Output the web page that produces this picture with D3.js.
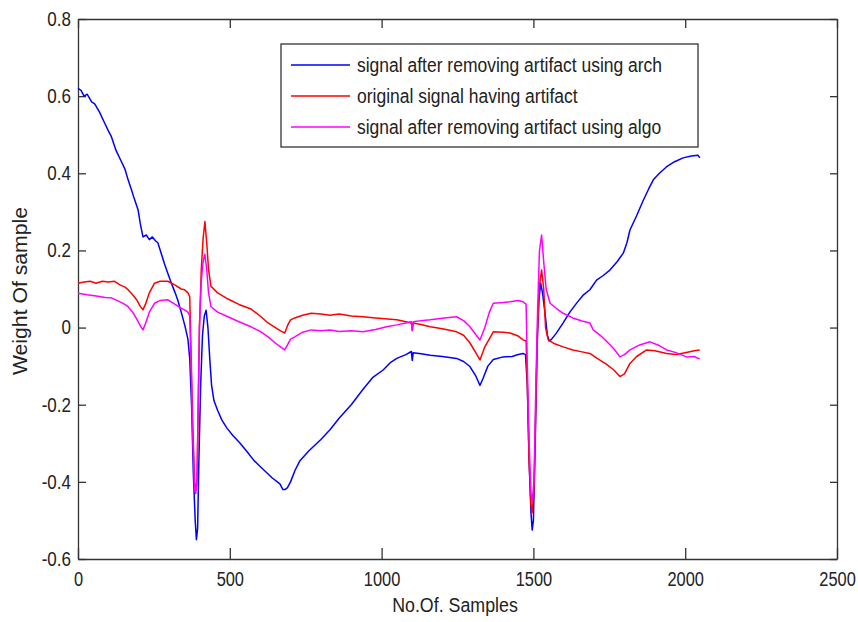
<!DOCTYPE html>
<html>
<head>
<meta charset="utf-8">
<script src="https://cdn.jsdelivr.net/npm/d3@7/dist/d3.min.js"></script>
<style>
  body { margin: 0; background: #fff; }
  svg text { font-family: "Liberation Sans Narrow", "Arial Narrow", "Liberation Sans", sans-serif; fill: #222; }
</style>
</head>
<body>
<div id="chart"></div>
<script>
// tick labels
const xTicks = [0, 500, 1000, 1500, 2000, 2500];
const yTicks = [-0.6, -0.4, -0.2, 0, 0.2, 0.4, 0.6, 0.8];

const seriesNames = [
  "signal after removing artifact using arch",
  "original signal having artifact",
  "signal after removing artifact using algo"
];
const seriesColors = ["#0000ff", "#ff0000", "#ff00ff"];

// [sample, value]
const archSignal = [
  [0,0.62],[10,0.615],[20,0.6],[30,0.605],[45,0.585],[55,0.58],[70,0.56],[85,0.535],[100,0.51],[110,0.495],
  [125,0.46],[140,0.435],[155,0.41],[165,0.383],[175,0.36],[185,0.335],[198,0.305],[205,0.27],[214,0.235],
  [225,0.24],[235,0.228],[245,0.235],[255,0.225],[263,0.22],[275,0.19],[285,0.165],[296,0.14],[310,0.11],
  [320,0.09],[329,0.07],[340,0.04],[352,0.005],[362,-0.03],[368,-0.08],[374,-0.2],[380,-0.38],[386,-0.5],
  [390,-0.55],[394,-0.52],[398,-0.35],[404,-0.15],[410,-0.02],[416,0.03],[422,0.045],[428,0.0],[434,-0.08],
  [440,-0.15],[448,-0.19],[460,-0.215],[474,-0.24],[490,-0.26],[510,-0.28],[534,-0.3],[555,-0.32],[580,-0.345],
  [600,-0.36],[620,-0.375],[640,-0.39],[665,-0.405],[675,-0.42],[682,-0.42],[690,-0.415],[700,-0.4],[715,-0.37],
  [731,-0.345],[760,-0.32],[800,-0.29],[830,-0.265],[860,-0.235],[900,-0.2],[939,-0.16],[970,-0.13],[1005,-0.11],
  [1030,-0.09],[1050,-0.08],[1080,-0.07],[1098,-0.062],[1101,-0.085],[1104,-0.065],[1130,-0.068],[1160,-0.072],
  [1200,-0.075],[1247,-0.08],[1270,-0.088],[1291,-0.101],[1310,-0.125],[1324,-0.15],[1335,-0.13],[1350,-0.1],
  [1368,-0.083],[1400,-0.076],[1430,-0.075],[1450,-0.07],[1466,-0.067],[1474,-0.07],[1480,-0.15],[1486,-0.35],
  [1492,-0.48],[1496,-0.525],[1500,-0.5],[1506,-0.3],[1512,-0.05],[1518,0.07],[1524,0.115],[1530,0.09],
  [1538,0.04],[1546,-0.02],[1552,-0.035],[1560,-0.03],[1575,-0.015],[1598,0.012],[1620,0.04],[1643,0.064],
  [1665,0.085],[1686,0.098],[1708,0.123],[1730,0.135],[1752,0.149],[1775,0.17],[1796,0.193],[1808,0.22],
  [1818,0.253],[1840,0.29],[1862,0.33],[1880,0.36],[1895,0.383],[1915,0.4],[1939,0.417],[1965,0.43],
  [1993,0.44],[2020,0.445],[2042,0.447],[2048,0.44]
];

const originalSignal = [
  [0,0.115],[20,0.118],[40,0.12],[60,0.115],[80,0.12],[100,0.118],[120,0.12],[140,0.11],[155,0.105],[165,0.098],
  [180,0.085],[195,0.07],[205,0.055],[214,0.046],[222,0.06],[235,0.09],[252,0.115],[270,0.12],[296,0.12],
  [320,0.11],[340,0.1],[351,0.098],[362,0.09],[368,0.08],[372,-0.05],[378,-0.25],[384,-0.4],[388,-0.42],
  [392,-0.4],[396,-0.2],[400,0.0],[406,0.15],[412,0.23],[418,0.275],[424,0.22],[430,0.15],[438,0.107],
  [460,0.09],[494,0.074],[530,0.06],[570,0.048],[600,0.03],[626,0.012],[650,0.0],[670,-0.01],[681,-0.014],
  [690,0.005],[700,0.02],[714,0.025],[740,0.032],[768,0.037],[800,0.035],[830,0.032],[860,0.035],[900,0.03],
  [939,0.028],[980,0.025],[1020,0.022],[1050,0.02],[1080,0.015],[1098,0.012],[1101,-0.008],[1104,0.012],
  [1130,0.008],[1160,0.002],[1200,-0.003],[1247,-0.011],[1270,-0.02],[1291,-0.04],[1310,-0.065],[1324,-0.084],
  [1340,-0.05],[1368,-0.011],[1400,-0.012],[1423,-0.014],[1450,-0.022],[1466,-0.032],[1476,-0.035],[1480,-0.15],
  [1486,-0.35],[1492,-0.46],[1496,-0.48],[1502,-0.42],[1508,-0.2],[1514,0.0],[1520,0.11],[1527,0.149],
  [1534,0.1],[1540,0.0],[1549,-0.032],[1570,-0.042],[1598,-0.05],[1630,-0.058],[1660,-0.063],[1686,-0.067],
  [1710,-0.08],[1740,-0.095],[1765,-0.11],[1785,-0.127],[1800,-0.12],[1818,-0.093],[1840,-0.075],[1873,-0.058],
  [1900,-0.06],[1939,-0.067],[1970,-0.07],[2000,-0.065],[2030,-0.06],[2048,-0.058]
];

const algoSignal = [
  [0,0.089],[30,0.085],[60,0.082],[90,0.078],[110,0.077],[130,0.07],[150,0.062],[165,0.054],[180,0.04],
  [195,0.02],[205,0.005],[214,-0.006],[222,0.01],[235,0.04],[252,0.063],[270,0.07],[296,0.072],[320,0.06],
  [340,0.05],[351,0.046],[362,0.04],[368,0.03],[372,-0.08],[378,-0.28],[384,-0.42],[388,-0.43],[392,-0.4],
  [396,-0.2],[400,0.0],[406,0.12],[412,0.17],[418,0.19],[424,0.15],[430,0.09],[438,0.054],[460,0.04],
  [494,0.028],[530,0.015],[570,0.002],[600,-0.01],[626,-0.024],[650,-0.04],[670,-0.052],[681,-0.058],
  [690,-0.045],[700,-0.03],[714,-0.024],[740,-0.012],[768,-0.006],[800,-0.008],[830,-0.006],[860,-0.01],
  [900,-0.008],[939,-0.011],[980,-0.005],[1020,0.003],[1050,0.007],[1080,0.012],[1098,0.015],[1101,-0.006],
  [1104,0.015],[1130,0.018],[1160,0.02],[1200,0.024],[1247,0.028],[1270,0.018],[1291,0.002],[1310,-0.018],
  [1324,-0.032],[1340,0.0],[1355,0.04],[1368,0.063],[1400,0.065],[1423,0.067],[1450,0.07],[1466,0.067],
  [1476,0.06],[1480,-0.1],[1486,-0.3],[1492,-0.43],[1496,-0.45],[1502,-0.4],[1508,-0.15],[1514,0.05],
  [1520,0.2],[1527,0.24],[1534,0.17],[1542,0.1],[1555,0.063],[1575,0.05],[1598,0.037],[1630,0.025],
  [1660,0.017],[1686,0.012],[1697,-0.006],[1720,-0.02],[1740,-0.035],[1765,-0.055],[1785,-0.076],[1800,-0.07],
  [1818,-0.058],[1850,-0.045],[1884,-0.037],[1910,-0.045],[1939,-0.058],[1970,-0.065],[2004,-0.076],
  [2030,-0.075],[2042,-0.08],[2048,-0.08]
];

const allSeries = [archSignal, originalSignal, algoSignal];

const width = 858;
const height = 622;
const plot = { left: 78, top: 19, right: 837, bottom: 559 };

const svg = d3.select("#chart")
  .append("svg")
  .attr("width", width)
  .attr("height", height);

const x = d3.scaleLinear().domain([0, 2500]).range([plot.left, plot.right]);
const y = d3.scaleLinear().domain([-0.6, 0.8]).range([plot.bottom, plot.top]);

const yFmt = d => String(+d.toFixed(1));

// squeeze text to look like the narrow matlab font
function squeeze(sel, k) {
  sel.each(function () {
    const len = this.getComputedTextLength();
    if (len > 0) {
      d3.select(this)
        .attr("textLength", len * k)
        .attr("lengthAdjust", "spacingAndGlyphs");
    }
  });
}

// axes, ticks pointing inward like matlab
const xAxisG = svg.append("g")
  .attr("class", "axis")
  .attr("transform", `translate(0,${plot.bottom})`)
  .call(d3.axisBottom(x).tickValues(xTicks).tickSizeInner(-11).tickSizeOuter(0).tickPadding(13).tickFormat(d => d));
svg.append("g")
  .attr("class", "axis")
  .attr("transform", `translate(0,${plot.top})`)
  .call(d3.axisTop(x).tickValues(xTicks).tickSizeInner(-9).tickSizeOuter(0).tickFormat(""));
const yAxisG = svg.append("g")
  .attr("class", "axis")
  .attr("transform", `translate(${plot.left},0)`)
  .call(d3.axisLeft(y).tickValues(yTicks).tickSizeInner(-8).tickSizeOuter(0).tickPadding(7).tickFormat(yFmt));
svg.append("g")
  .attr("class", "axis")
  .attr("transform", `translate(${plot.right},0)`)
  .call(d3.axisRight(y).tickValues(yTicks).tickSizeInner(-7).tickSizeOuter(0).tickFormat(""));

svg.selectAll(".axis text").style("font-size", "20px").attr("fill", "#222");
svg.selectAll(".axis line").attr("stroke", "#333").attr("stroke-width", 1.3);
svg.selectAll(".axis path").attr("stroke", "#333").attr("stroke-width", 1.3);
squeeze(xAxisG.selectAll("text"), 0.82);
squeeze(yAxisG.selectAll("text"), 0.85);

// lines
const line = d3.line().x(d => x(d[0])).y(d => y(d[1]));
allSeries.forEach((s, i) => {
  svg.append("path")
    .datum(s)
    .attr("fill", "none")
    .attr("stroke", seriesColors[i])
    .attr("stroke-width", 1.5)
    .attr("stroke-linejoin", "round")
    .attr("d", line);
});

// legend
const legend = svg.append("g");
legend.append("rect")
  .attr("x", 281).attr("y", 44)
  .attr("width", 417).attr("height", 103)
  .attr("fill", "#fff")
  .attr("stroke", "#333")
  .attr("stroke-width", 1.3);
seriesNames.forEach((name, i) => {
  const ly = 65 + i * 31;
  legend.append("line")
    .attr("x1", 291).attr("x2", 350)
    .attr("y1", ly).attr("y2", ly)
    .attr("stroke", seriesColors[i])
    .attr("stroke-width", 1.3);
  legend.append("text")
    .attr("x", 357).attr("y", ly + 7)
    .style("font-size", "20px")
    .text(name);
});
squeeze(legend.selectAll("text"), 0.874);

// axis titles
const xTitle = svg.append("text")
  .attr("x", 455).attr("y", 612)
  .attr("text-anchor", "middle")
  .style("font-size", "20px")
  .text("No.Of. Samples");
squeeze(xTitle, 0.89);
const yTitle = svg.append("text")
  .attr("transform", "translate(27,291) rotate(-90)")
  .attr("text-anchor", "middle")
  .style("font-size", "20px")
  .text("Weight Of sample");
squeeze(yTitle, 1.06);
</script>
</body>
</html>
